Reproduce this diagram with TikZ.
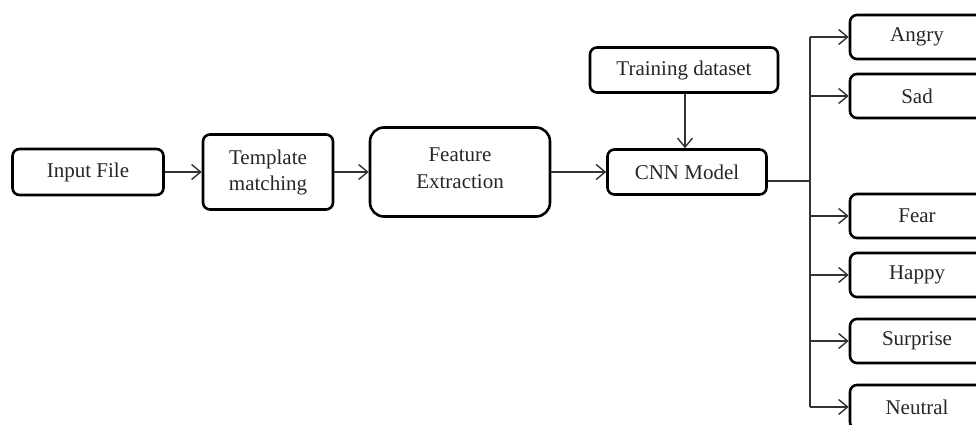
\documentclass[tikz,border=0pt]{standalone}
\usepackage{fontspec}
\setmainfont{Liberation Serif}
\usetikzlibrary{arrows.meta}
\begin{document}
\begin{tikzpicture}[x=1pt,y=-1pt,
  box/.style={draw=black, line width=2.6pt, rounded corners=7pt, align=center,
    inner sep=0pt, font=\fontsize{21}{26}\selectfont, text=black!85},
  conn/.style={draw=black!80, line width=1.4pt},
  arr/.style={conn, -{Straight Barb[length=9pt,width=15pt,line width=1.4pt]}}]
\useasboundingbox (0,0) rectangle (976,425);
\clip (0,0) rectangle (976,425);
\node[box, minimum width=151pt, minimum height=46pt] (input) at (88,172) {Input File};
\node[box, minimum width=130pt, minimum height=75pt] (tmpl) at (268,172) {Template\\matching};
\node[box, minimum width=180pt, minimum height=89pt, rounded corners=14pt] (feat) at (460,172) {};
\node[align=center, font=\fontsize{21}{27}\selectfont, text=black!85, inner sep=0pt] (featlbl) at (460,168) {Feature\\Extraction};
\node[box, minimum width=188pt, minimum height=45pt] (train) at (684,70) {Training dataset};
\node[box, minimum width=159pt, minimum height=45pt] (cnn) at (687,172) {CNN Model};
\foreach \n/\t/\y in {angry/Angry/37, sad/Sad/96, fear/Fear/216, happy/Happy/275, surprise/Surprise/341, neutral/Neutral/407}
  \node[box, minimum width=134pt, minimum height=44pt] (\n) at (917,\y) {\t};
\coordinate (bus) at (810,181);
\draw[arr] (input) -- (tmpl);
\draw[arr] (tmpl) -- (feat);
\draw[arr] (feat.east) -- (cnn.west |- feat.east);
\draw[arr] (train.south -| 685,0) -- (cnn.north -| 685,0);
\draw[conn] (cnn.east |- bus) -- (bus);
\draw[conn] (bus |- angry.west) -- (bus |- neutral.west);
\foreach \n in {angry, sad, fear, happy, surprise, neutral}
  \draw[arr] (bus |- \n.west) -- (\n.west);
\end{tikzpicture}
\end{document}
